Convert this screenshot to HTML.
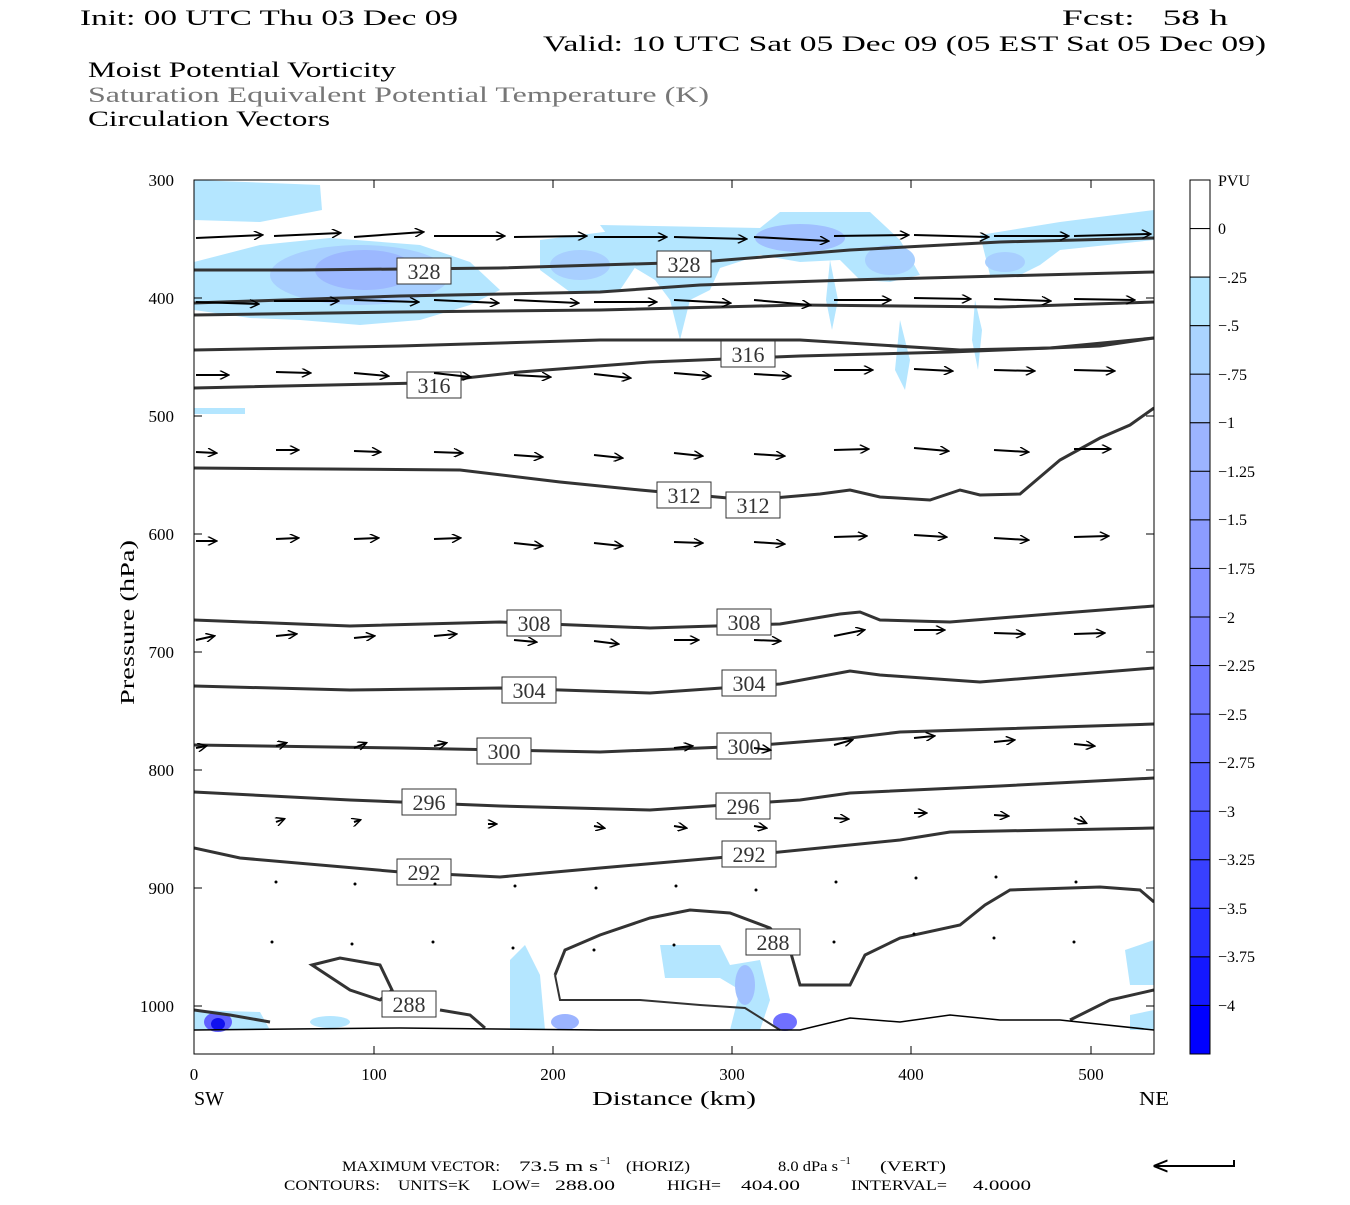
<!DOCTYPE html>
<html><head><meta charset="utf-8"><style>
body{margin:0;background:#fff;}
svg text{font-family:"Liberation Serif","DejaVu Serif",serif;white-space:pre;}
</style></head><body>
<svg width="1350" height="1200" viewBox="0 0 1350 1200" xmlns="http://www.w3.org/2000/svg" xml:space="preserve">
<defs>
<marker id="ah" viewBox="0 0 10 10" refX="9" refY="5" markerWidth="11" markerHeight="9" orient="auto" markerUnits="userSpaceOnUse">
<path d="M0,0 L10,5 L0,10" fill="none" stroke="#000" stroke-width="1.6"/></marker>
<marker id="ah2" viewBox="0 0 10 10" refX="9" refY="5" markerWidth="14" markerHeight="14" orient="auto" markerUnits="userSpaceOnUse">
<path d="M0,1 L10,5 L0,9" fill="none" stroke="#000" stroke-width="1.4"/></marker>
<clipPath id="pc"><rect x="194" y="180" width="960" height="874"/></clipPath>
</defs>
<g font-size="22" fill="#000">
<text x="80" y="25" textLength="378" lengthAdjust="spacingAndGlyphs">Init: 00 UTC Thu 03 Dec 09</text>
<text x="1062" y="25" textLength="166" lengthAdjust="spacingAndGlyphs">Fcst:   58 h</text>
<text x="543" y="51" textLength="723" lengthAdjust="spacingAndGlyphs">Valid: 10 UTC Sat 05 Dec 09 (05 EST Sat 05 Dec 09)</text>
<text x="88" y="77" textLength="308" lengthAdjust="spacingAndGlyphs">Moist Potential Vorticity</text>
<text x="88" y="102" fill="#777" textLength="621" lengthAdjust="spacingAndGlyphs">Saturation Equivalent Potential Temperature (K)</text>
<text x="88" y="126" textLength="242" lengthAdjust="spacingAndGlyphs">Circulation Vectors</text>
</g>
<!-- shading -->
<g clip-path="url(#pc)">
<path d="M194,180 L320,185 L322,210 L260,222 L194,220Z" fill="#b4e6ff"/>
<path d="M194,262 L260,245 L330,238 L420,245 L470,262 L500,290 L470,305 L420,320 L360,325 L300,320 L250,318 L194,310Z" fill="#b4e6ff"/>
<ellipse cx="360" cy="275" rx="90" ry="30" fill="#a8cfff"/>
<ellipse cx="365" cy="270" rx="50" ry="20" fill="#9cb8ff"/>
<path d="M540,240 L620,230 L640,260 L620,290 L570,292 L540,270Z" fill="#b4e6ff"/>
<ellipse cx="580" cy="265" rx="30" ry="15" fill="#a8cfff"/>
<path d="M600,225 L760,228 L780,212 L870,212 L900,240 L920,275 L890,282 L860,280 L840,260 L800,262 L760,255 L720,268 L710,290 L690,300 L680,340 L670,300 L655,280 L630,265 Z" fill="#b4e6ff"/>
<ellipse cx="800" cy="238" rx="45" ry="14" fill="#a0c0ff"/>
<ellipse cx="890" cy="260" rx="25" ry="15" fill="#a8cfff"/>
<path d="M980,235 L1060,222 L1154,210 L1154,240 L1060,250 L1040,265 L1020,275 L990,275Z" fill="#b4e6ff"/>
<ellipse cx="1005" cy="262" rx="20" ry="10" fill="#a8cfff"/>
<path d="M900,320 L910,360 L905,390 L895,370Z" fill="#b4e6ff"/>
<path d="M975,300 L982,330 L978,370 L972,340Z" fill="#b4e6ff"/>
<path d="M830,260 L838,300 L832,330 L826,300Z" fill="#b4e6ff"/>
<path d="M194,408 L245,408 L245,414 L194,414Z" fill="#b4e6ff"/>
<path d="M510,960 L525,945 L540,975 L545,1030 L510,1030Z" fill="#b4e6ff"/>
<path d="M660,945 L720,945 L730,965 L760,960 L770,1000 L760,1030 L730,1030 L740,990 L720,978 L665,978Z" fill="#b4e6ff"/>
<ellipse cx="745" cy="985" rx="10" ry="20" fill="#a0c0ff"/>
<path d="M1125,950 L1154,940 L1154,985 L1130,985Z" fill="#b4e6ff"/>
<path d="M1130,1015 L1154,1010 L1154,1030 L1130,1030Z" fill="#b4e6ff"/>
<path d="M194,1010 L260,1012 L270,1030 L194,1030Z" fill="#b4e6ff"/>
<ellipse cx="218" cy="1022" rx="14" ry="10" fill="#6060ff"/>
<ellipse cx="218" cy="1024" rx="7" ry="6" fill="#1010ee"/>
<ellipse cx="785" cy="1022" rx="12" ry="9" fill="#7070ff"/>
<ellipse cx="565" cy="1022" rx="14" ry="8" fill="#9cb4ff"/>
<ellipse cx="330" cy="1022" rx="20" ry="6" fill="#b4e6ff"/>
</g>
<!-- contours -->
<g fill="none" stroke="#333" stroke-width="3" clip-path="url(#pc)">
<path d="M194,270 L300,270 L500,268 L700,262 L850,250 L1000,242 L1154,238"/>
<path d="M194,303 L400,296 L600,292 L700,285 L850,280 L1000,276 L1154,272"/>
<path d="M194,315 L400,312 L600,310 L800,305 L1000,307 L1154,302"/>
<path d="M194,350 L400,346 L600,340 L800,340 L960,350 L1050,348 L1154,338"/>
<path d="M194,388 L420,383 L520,372 L650,362 L800,356 L950,352 L1100,346 L1154,338"/>
<path d="M194,468 L460,470 L560,482 L640,490 L750,500 L820,494 L850,490 L880,497 L930,500 L960,490 L980,495 L1020,494 L1060,460 L1100,438 L1130,425 L1154,408"/>
<path d="M194,620 L350,626 L500,622 L650,628 L780,624 L840,614 L860,612 L880,620 L950,622 L1050,614 L1154,606"/>
<path d="M194,686 L350,690 L500,688 L650,693 L780,684 L850,671 L880,675 L980,682 L1154,668"/>
<path d="M194,745 L400,748 L600,752 L750,746 L850,738 L900,732 L1154,724"/>
<path d="M194,792 L350,800 L500,806 L650,810 L800,800 L850,793 L1000,786 L1154,778"/>
<path d="M194,848 L240,858 L400,872 L500,877 L600,868 L750,855 L900,840 L950,832 L1154,828"/>
<path d="M555,975 L565,950 L600,935 L650,918 L690,910 L730,913 L770,928 L790,950 L800,985 L850,985 L865,955 L900,938 L960,925 L985,905 L1010,890 L1100,887 L1140,890 L1154,902"/>
<path d="M312,965 L340,958 L380,965 L392,990 L380,1000 L350,990 Z"/>
<path d="M194,1010 L230,1015 L270,1022"/>
<path d="M440,1010 L470,1015 L485,1028"/>
<path d="M1070,1020 L1110,1000 L1154,990"/>
<path d="M555,975 L560,1000 L640,1000 L700,1005 L745,1008 L780,1030" stroke-width="2"/>
<path d="M194,1030 L400,1028 L600,1030 L800,1030 L850,1018 L900,1022 L950,1015 L1000,1020 L1060,1020 L1154,1030" stroke="#000" stroke-width="1.5"/>
</g>
<!-- contour labels -->
<g font-size="22" text-anchor="middle" fill="#333">
<g fill="#fff" stroke="#333" stroke-width="1">
<rect x="397" y="258" width="54" height="26"/><rect x="657" y="251" width="54" height="26"/>
<rect x="721" y="341" width="54" height="26"/><rect x="407" y="372" width="54" height="26"/>
<rect x="657" y="482" width="54" height="26"/><rect x="726" y="492" width="54" height="26"/>
<rect x="507" y="610" width="54" height="26"/><rect x="717" y="609" width="54" height="26"/>
<rect x="502" y="677" width="54" height="26"/><rect x="722" y="670" width="54" height="26"/>
<rect x="477" y="738" width="54" height="26"/><rect x="717" y="733" width="54" height="26"/>
<rect x="402" y="789" width="54" height="26"/><rect x="716" y="793" width="54" height="26"/>
<rect x="397" y="859" width="54" height="26"/><rect x="722" y="841" width="54" height="26"/>
<rect x="746" y="929" width="54" height="26"/><rect x="382" y="991" width="54" height="26"/>
</g>
<text x="424" y="279">328</text><text x="684" y="272">328</text>
<text x="748" y="362">316</text><text x="434" y="393">316</text>
<text x="684" y="503">312</text><text x="753" y="513">312</text>
<text x="534" y="631">308</text><text x="744" y="630">308</text>
<text x="529" y="698">304</text><text x="749" y="691">304</text>
<text x="504" y="759">300</text><text x="744" y="754">300</text>
<text x="429" y="810">296</text><text x="743" y="814">296</text>
<text x="424" y="880">292</text><text x="749" y="862">292</text>
<text x="773" y="950">288</text><text x="409" y="1012">288</text>
</g>
<!-- vectors -->
<g stroke="#000" stroke-width="2" marker-end="url(#ah)">
<path d="M196,238 L262,235"/><path d="M274,236 L340,233"/><path d="M354,237 L423,232"/><path d="M434,236 L504,236"/><path d="M514,237 L586,236"/><path d="M594,237 L666,237"/><path d="M674,237 L746,239"/><path d="M754,237 L828,241"/><path d="M834,236 L908,235"/><path d="M914,235 L988,237"/><path d="M994,236 L1068,236"/><path d="M1074,236 L1150,234"/>
<path d="M196,302 L258,304"/><path d="M274,301 L338,301"/><path d="M354,300 L418,302"/><path d="M434,300 L498,303"/><path d="M514,300 L578,303"/><path d="M594,302 L656,302"/><path d="M674,300 L730,303"/><path d="M754,300 L810,305"/><path d="M834,300 L890,300"/><path d="M914,298 L970,299"/><path d="M994,299 L1050,301"/><path d="M1074,299 L1134,300"/>
<path d="M196,375 L228,375"/><path d="M276,372 L310,373"/><path d="M354,373 L388,376"/><path d="M434,373 L470,377"/><path d="M514,375 L550,377"/><path d="M594,374 L630,378"/><path d="M674,373 L710,376"/><path d="M754,374 L790,376"/><path d="M834,370 L872,370"/><path d="M914,369 L952,371"/><path d="M994,370 L1034,371"/><path d="M1074,370 L1114,371"/>
<path d="M196,452 L216,453"/><path d="M276,450 L298,450"/><path d="M354,451 L380,452"/><path d="M434,452 L462,453"/><path d="M514,455 L542,457"/><path d="M594,455 L622,458"/><path d="M674,453 L702,456"/><path d="M754,454 L784,456"/><path d="M834,450 L868,449"/><path d="M914,448 L948,451"/><path d="M994,450 L1028,452"/><path d="M1074,449 L1110,449"/>
<path d="M196,541 L216,541"/><path d="M276,539 L298,538"/><path d="M354,539 L378,538"/><path d="M434,539 L460,538"/><path d="M514,543 L542,546"/><path d="M594,543 L622,546"/><path d="M674,542 L702,543"/><path d="M754,542 L784,544"/><path d="M834,537 L866,536"/><path d="M914,535 L946,537"/><path d="M994,538 L1028,540"/><path d="M1074,537 L1108,536"/>
<path d="M196,640 L214,636"/><path d="M276,636 L296,634"/><path d="M354,638 L374,636"/><path d="M434,636 L456,634"/><path d="M514,640 L536,642"/><path d="M594,641 L618,644"/><path d="M674,640 L698,640"/><path d="M754,640 L780,641"/><path d="M834,636 L864,630"/><path d="M914,630 L944,630"/><path d="M994,633 L1024,634"/><path d="M1074,634 L1104,633"/>
<path d="M196,748 L206,746"/><path d="M276,746 L286,743"/><path d="M354,748 L366,743"/><path d="M434,746 L446,743"/><path d="M674,748 L692,746"/><path d="M754,748 L770,750"/><path d="M834,745 L852,740"/><path d="M914,738 L934,736"/><path d="M994,742 L1014,740"/><path d="M1074,744 L1094,746"/>
<path d="M276,822 L284,819"/><path d="M354,822 L360,820"/><path d="M488,824 L496,824"/><path d="M594,826 L604,828"/><path d="M674,826 L686,828"/><path d="M754,826 L766,828"/><path d="M834,818 L848,819"/><path d="M914,813 L926,813"/><path d="M994,815 L1008,816"/><path d="M1074,818 L1086,823"/>
</g>
<g fill="#000"><circle cx="276" cy="882" r="1.5"/><circle cx="355" cy="884" r="1.5"/><circle cx="435" cy="884" r="1.5"/><circle cx="515" cy="886" r="1.5"/><circle cx="596" cy="888" r="1.5"/><circle cx="676" cy="886" r="1.5"/><circle cx="756" cy="890" r="1.5"/><circle cx="836" cy="882" r="1.5"/><circle cx="916" cy="878" r="1.5"/><circle cx="996" cy="877" r="1.5"/><circle cx="1076" cy="882" r="1.5"/>
<circle cx="272" cy="942" r="1.5"/><circle cx="352" cy="944" r="1.5"/><circle cx="433" cy="942" r="1.5"/><circle cx="513" cy="948" r="1.5"/><circle cx="594" cy="950" r="1.5"/><circle cx="674" cy="945" r="1.5"/><circle cx="834" cy="942" r="1.5"/><circle cx="914" cy="934" r="1.5"/><circle cx="994" cy="938" r="1.5"/><circle cx="1074" cy="942" r="1.5"/></g>
<!-- frame -->
<rect x="194" y="180" width="960" height="874" fill="none" stroke="#000" stroke-width="1"/>
<g stroke="#000" stroke-width="1">
<path d="M194,298 h8 M194,416 h8 M194,534 h8 M194,652 h8 M194,770 h8 M194,888 h8 M194,1006 h8"/>
<path d="M1154,298 h-8 M1154,416 h-8 M1154,534 h-8 M1154,652 h-8 M1154,770 h-8 M1154,888 h-8 M1154,1006 h-8"/>
<path d="M374,1054 v-8 M553,1054 v-8 M732,1054 v-8 M911,1054 v-8 M1091,1054 v-8"/>
<path d="M374,180 v8 M553,180 v8 M732,180 v8 M911,180 v8 M1091,180 v8"/>
</g>
<g font-size="17" text-anchor="end">
<text x="174" y="186">300</text><text x="174" y="304">400</text><text x="174" y="422">500</text><text x="174" y="540">600</text><text x="174" y="658">700</text><text x="174" y="776">800</text><text x="174" y="894">900</text><text x="174" y="1012">1000</text>
</g>
<g font-size="17" text-anchor="middle">
<text x="194" y="1080">0</text><text x="374" y="1080">100</text><text x="553" y="1080">200</text><text x="732" y="1080">300</text><text x="911" y="1080">400</text><text x="1091" y="1080">500</text>
</g>
<text x="194" y="1105" font-size="20" textLength="30" lengthAdjust="spacingAndGlyphs">SW</text>
<text x="1139" y="1105" font-size="20" textLength="30" lengthAdjust="spacingAndGlyphs">NE</text>
<text x="592" y="1105" font-size="20" textLength="164" lengthAdjust="spacingAndGlyphs">Distance (km)</text>
<text transform="translate(134,705) rotate(-90)" font-size="20" textLength="165" lengthAdjust="spacingAndGlyphs">Pressure (hPa)</text>
<!-- colorbar -->
<g stroke="#000" stroke-width="1">
<rect x="1190" y="180" width="20" height="48.6" fill="#fff"/>
<rect x="1190" y="228.6" width="20" height="48.6" fill="#fff"/>
<rect x="1190" y="277.1" width="20" height="48.6" fill="#b4e6ff"/>
<rect x="1190" y="325.7" width="20" height="48.6" fill="#aad4ff"/>
<rect x="1190" y="374.2" width="20" height="48.6" fill="#a4c4ff"/>
<rect x="1190" y="422.8" width="20" height="48.6" fill="#9cb4ff"/>
<rect x="1190" y="471.3" width="20" height="48.6" fill="#94a8ff"/>
<rect x="1190" y="519.9" width="20" height="48.6" fill="#8c9cff"/>
<rect x="1190" y="568.4" width="20" height="48.6" fill="#8490ff"/>
<rect x="1190" y="617" width="20" height="48.6" fill="#7c84ff"/>
<rect x="1190" y="665.6" width="20" height="48.6" fill="#7078ff"/>
<rect x="1190" y="714.1" width="20" height="48.6" fill="#646cff"/>
<rect x="1190" y="762.7" width="20" height="48.6" fill="#5860ff"/>
<rect x="1190" y="811.2" width="20" height="48.6" fill="#4850ff"/>
<rect x="1190" y="859.8" width="20" height="48.6" fill="#3840ff"/>
<rect x="1190" y="908.3" width="20" height="48.6" fill="#2830ff"/>
<rect x="1190" y="956.9" width="20" height="48.6" fill="#1418ff"/>
<rect x="1190" y="1005.4" width="20" height="48.6" fill="#0000ff"/>
</g>
<g font-size="16">
<text x="1218" y="186">PVU</text>
<text x="1218" y="234">0</text><text x="1218" y="283">−.25</text><text x="1218" y="331">−.5</text><text x="1218" y="380">−.75</text><text x="1218" y="428">−1</text><text x="1218" y="477">−1.25</text><text x="1218" y="525">−1.5</text><text x="1218" y="574">−1.75</text><text x="1218" y="623">−2</text><text x="1218" y="671">−2.25</text><text x="1218" y="720">−2.5</text><text x="1218" y="768">−2.75</text><text x="1218" y="817">−3</text><text x="1218" y="865">−3.25</text><text x="1218" y="914">−3.5</text><text x="1218" y="962">−3.75</text><text x="1218" y="1011">−4</text>
</g>
<!-- footer -->
<g font-size="15">
<text x="342" y="1171" textLength="158" lengthAdjust="spacingAndGlyphs">MAXIMUM VECTOR:</text>
<text x="519" y="1171" textLength="79" lengthAdjust="spacingAndGlyphs">73.5 m s</text>
<text x="600" y="1164" font-size="10">−1</text>
<text x="626" y="1171" textLength="64" lengthAdjust="spacingAndGlyphs">(HORIZ)</text>
<text x="778" y="1171" textLength="60" lengthAdjust="spacingAndGlyphs">8.0 dPa s</text>
<text x="840" y="1164" font-size="10">−1</text>
<text x="880" y="1171" textLength="66" lengthAdjust="spacingAndGlyphs">(VERT)</text>
<text x="284" y="1190" textLength="96" lengthAdjust="spacingAndGlyphs">CONTOURS:</text>
<text x="398" y="1190" textLength="72" lengthAdjust="spacingAndGlyphs">UNITS=K</text>
<text x="492" y="1190" textLength="48" lengthAdjust="spacingAndGlyphs">LOW=</text>
<text x="555" y="1190" textLength="60" lengthAdjust="spacingAndGlyphs">288.00</text>
<text x="667" y="1190" textLength="54" lengthAdjust="spacingAndGlyphs">HIGH=</text>
<text x="741" y="1190" textLength="59" lengthAdjust="spacingAndGlyphs">404.00</text>
<text x="851" y="1190" textLength="96" lengthAdjust="spacingAndGlyphs">INTERVAL=</text>
<text x="973" y="1190" textLength="58" lengthAdjust="spacingAndGlyphs">4.0000</text>
</g>
<path d="M1234,1160 L1234,1166 L1155,1166" fill="none" stroke="#000" stroke-width="2" marker-end="url(#ah2)"/>
</svg>
</body></html>
